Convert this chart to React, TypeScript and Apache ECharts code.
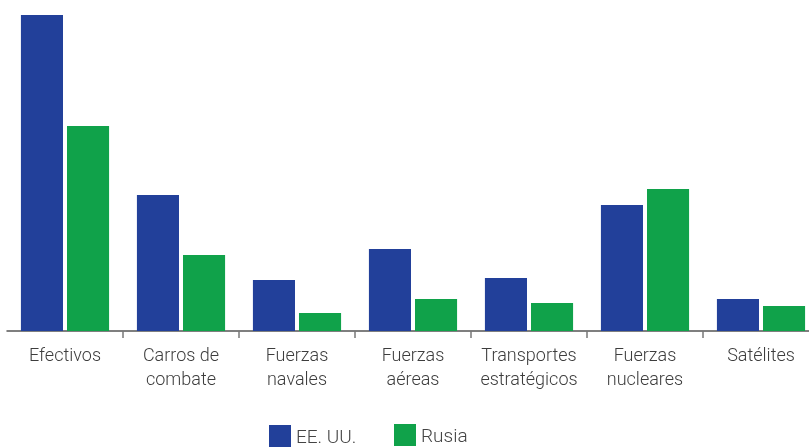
import React, { useEffect, useRef } from "react";
import * as echarts from "echarts";

const categories = [
  "Efectivos",
  "Carros de\ncombate",
  "Fuerzas\nnavales",
  "Fuerzas\naéreas",
  "Transportes\nestratégicos",
  "Fuerzas\nnucleares",
  "Satélites",
];
const usValues = [316, 136, 51, 82, 53, 126, 32];
const ruValues = [205, 76, 18, 32, 28, 142, 25];
const seriesNames = ["EE. UU.", "Rusia"];

export default function App() {
  const ref = useRef<HTMLDivElement>(null);
  useEffect(() => {
    if (!ref.current) return;
    const chart = echarts.init(ref.current, null, { renderer: "svg" });
    const legendText = {
      fontSize: 19,
      color: "#444",
      fontWeight: 300,
      fontFamily: "Roboto",
      padding: [8, 0, 0, 0],
    };
    chart.setOption({
      animation: false,
      textStyle: { fontFamily: "Roboto" },
      grid: {
        left: 7,
        top: 15,
        width: 812,
        height: 316,
        containLabel: false,
        outerBoundsMode: "none",
      },
      legend: [
        {
          left: 264,
          top: 420,
          itemWidth: 22,
          itemHeight: 22,
          icon: "rect",
          textStyle: legendText,
          data: [seriesNames[0]],
        },
        {
          left: 389,
          top: 419,
          itemWidth: 22,
          itemHeight: 22,
          icon: "rect",
          textStyle: legendText,
          data: [seriesNames[1]],
        },
      ],
      xAxis: {
        type: "category",
        data: categories,
        boundaryGap: true,
        axisLine: { show: true, lineStyle: { color: "#555", width: 1.5 } },
        axisTick: {
          show: true,
          length: 7,
          lineStyle: { color: "#777", width: 1.5 },
          interval: (index: number) => index !== 0,
        },
        axisLabel: {
          interval: 0,
          margin: 11,
          fontSize: 18,
          lineHeight: 24,
          color: "#3d3d3d",
          fontWeight: 300,
          fontFamily: "Roboto",
        },
      },
      yAxis: {
        type: "value",
        min: 0,
        max: 316,
        show: false,
        splitLine: { show: false },
      },
      series: [
        {
          name: seriesNames[0],
          type: "bar",
          data: usValues,
          itemStyle: { color: "#22409A" },
          barCategoryGap: "24%",
          barGap: "9.5%",
        },
        {
          name: seriesNames[1],
          type: "bar",
          data: ruValues,
          itemStyle: { color: "#10A24A" },
          barCategoryGap: "24%",
          barGap: "9.5%",
        },
      ],
    });
    return () => chart.dispose();
  }, []);
  return (
    <div
      ref={ref}
      style={{ position: "fixed", left: 0, top: 0, width: 809, height: 448 }}
    />
  );
}
